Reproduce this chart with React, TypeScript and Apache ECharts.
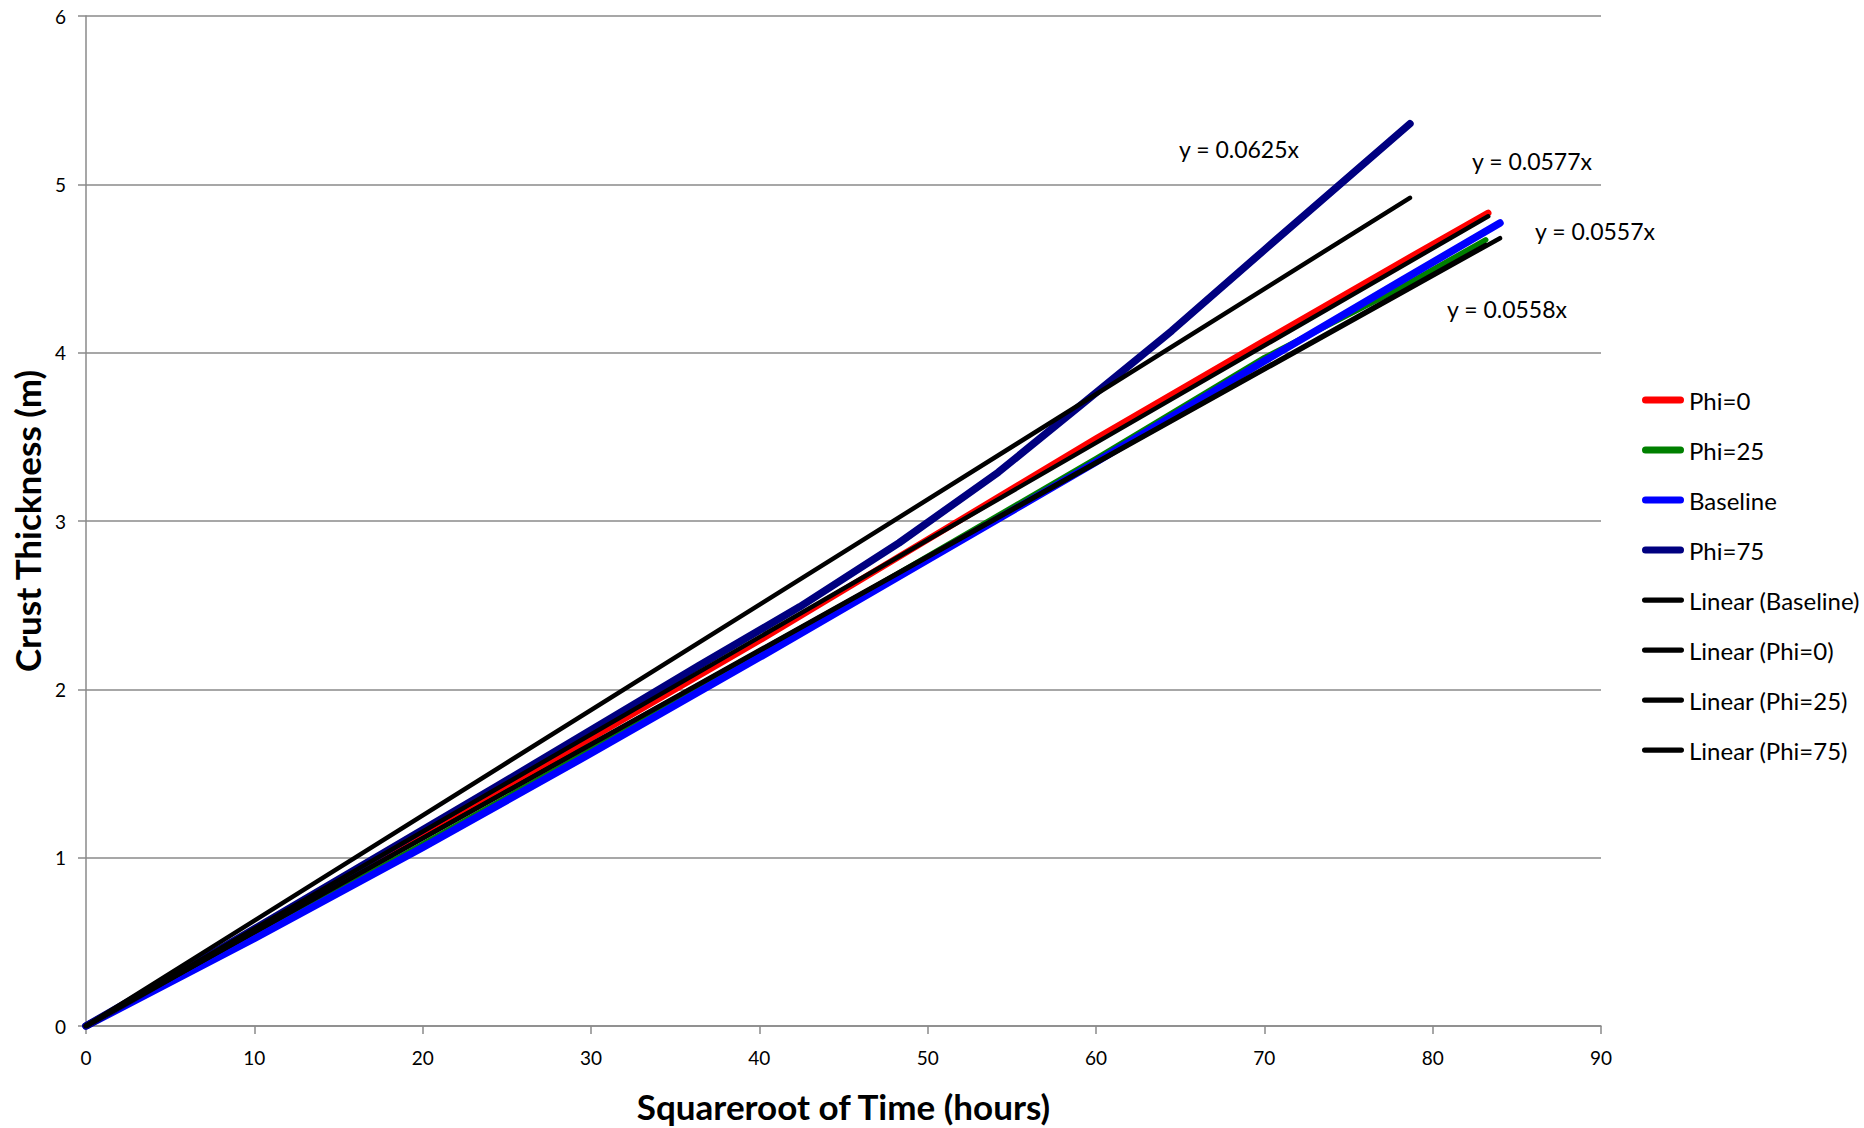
import React, { useEffect, useRef } from "react";
import * as echarts from "echarts";

// ---- data (x = sqrt of time in hours, y = crust thickness in m) ----
const phi0: [number, number][] = [
  [0, 0], [10, 0.56], [20, 1.13], [30, 1.71], [40, 2.29], [50, 2.89], [60, 3.49], [70, 4.07], [78, 4.53], [83.3, 4.83],
];
const phi25: [number, number][] = [
  [0, 0], [10, 0.53], [20, 1.08], [30, 1.64], [40, 2.21], [50, 2.79], [60, 3.37], [70, 3.97], [78, 4.38], [83.15, 4.67],
];
const baseline: [number, number][] = [
  [0, 0], [10, 0.52], [20, 1.06], [30, 1.62], [40, 2.19], [50, 2.77], [60, 3.35], [70, 3.95], [78, 4.42], [84, 4.77],
];
const phi75: [number, number][] = [
  [0, 0], [8, 0.46], [16, 0.93], [24.5, 1.43], [36.4, 2.14], [42.4, 2.49], [48.3, 2.87], [54.2, 3.29], [59, 3.68],
  [64.5, 4.13], [70, 4.61], [78.65, 5.36],
];
const trendBaseline: [number, number][] = [[0, 0], [84, 4.68]];
const trendPhi0: [number, number][] = [[0, 0], [83.3, 4.81]];
const trendPhi25: [number, number][] = [[0, 0], [83.15, 4.64]];
const trendPhi75: [number, number][] = [[0, 0], [78.65, 4.92]];

const seriesNames = [
  "Phi=0", "Phi=25", "Baseline", "Phi=75",
  "Linear (Baseline)", "Linear (Phi=0)", "Linear (Phi=25)", "Linear (Phi=75)",
];
const seriesData = [phi0, phi25, baseline, phi75, trendBaseline, trendPhi0, trendPhi25, trendPhi75];
const seriesColors = ["#FF0000", "#008000", "#0000FF", "#000080", "#000000", "#000000", "#000000", "#000000"];
const seriesWidths = [6.5, 5.5, 7.5, 7.5, 4.5, 4.5, 4.5, 4.5];

const equationLabels = ["y = 0.0625x", "y = 0.0577x", "y = 0.0557x", "y = 0.0558x"];

const xTicks = { min: 0, max: 90, interval: 10 };
const yTicks = { min: 0, max: 6, interval: 1 };

const FONT = "Lato";

export default function App() {
  const ref = useRef<HTMLDivElement>(null);
  useEffect(() => {
    document.body.style.margin = "0";
    const chart = echarts.init(ref.current!, null, { renderer: "svg" });
    const thickIcon = "path://M3.5,0 L38.5,0 A3.5,3.5 0 0 1 38.5,7 L3.5,7 A3.5,3.5 0 0 1 3.5,0 Z";
    const thinIcon = "path://M2.5,0 L37.5,0 A2.5,2.5 0 0 1 37.5,5 L2.5,5 A2.5,2.5 0 0 1 2.5,0 Z";
    const eqPos = [
      [1179, 149],
      [1472, 161],
      [1535, 231],
      [1447, 309],
    ];
    chart.setOption({
      animation: false,
      backgroundColor: "#ffffff",
      textStyle: { fontFamily: FONT },
      grid: { left: 86, right: 263, top: 16, bottom: 99, containLabel: false },
      legend: {
        orient: "vertical",
        left: 1637,
        top: 383,
        itemWidth: 42,
        itemHeight: 7,
        itemGap: 26,
        itemTextGap: 1,
        selectedMode: false,
        textStyle: { fontFamily: FONT, fontSize: 24, color: "#000", lineHeight: 24 },
        data: seriesNames.map((n, i) => ({
          name: n,
          icon: i < 4 ? thickIcon : thinIcon,
          itemStyle: { color: seriesColors[i] },
        })),
      },
      xAxis: {
        type: "value",
        min: xTicks.min,
        max: xTicks.max,
        interval: xTicks.interval,
        name: "Squareroot of Time (hours)",
        nameLocation: "middle",
        nameGap: 62,
        nameTextStyle: { fontFamily: FONT, fontSize: 35, fontWeight: "bold", color: "#000" },
        axisLine: { show: true, lineStyle: { color: "#8a8a8a", width: 1.5 } },
        axisTick: { show: true, inside: false, length: 8, lineStyle: { color: "#8a8a8a", width: 1.5 } },
        axisLabel: { fontFamily: FONT, fontSize: 19, color: "#000", margin: 22 },
        splitLine: { show: false },
      },
      yAxis: {
        type: "value",
        min: yTicks.min,
        max: yTicks.max,
        interval: yTicks.interval,
        name: "Crust Thickness (m)",
        nameLocation: "middle",
        nameGap: 42,
        nameTextStyle: { fontFamily: FONT, fontSize: 35, fontWeight: "bold", color: "#000" },
        axisLine: { show: true, lineStyle: { color: "#8a8a8a", width: 1.5 } },
        axisTick: { show: true, inside: false, length: 8, lineStyle: { color: "#8a8a8a", width: 1.5 } },
        axisLabel: { fontFamily: FONT, fontSize: 19, color: "#000", margin: 20 },
        splitLine: { show: true, lineStyle: { color: "#8a8a8a", width: 1.5 } },
      },
      series: seriesNames.map((n, i) => ({
        name: n,
        type: "line",
        data: seriesData[i],
        showSymbol: false,
        symbol: "none",
        smooth: false,
        z: i < 4 ? 2 : 3,
        itemStyle: { color: seriesColors[i] },
        lineStyle: { color: seriesColors[i], width: seriesWidths[i], cap: "round", join: "round" },
        emphasis: { disabled: true },
      })),
      graphic: equationLabels.map((t, i) => ({
        type: "text",
        x: eqPos[i][0],
        y: eqPos[i][1],
        style: { text: t, fontFamily: FONT, fontSize: 23, fill: "#000", verticalAlign: "middle" },
      })),
    });
    return () => chart.dispose();
  }, []);
  return <div ref={ref} style={{ width: 1864, height: 1128 }} />;
}
